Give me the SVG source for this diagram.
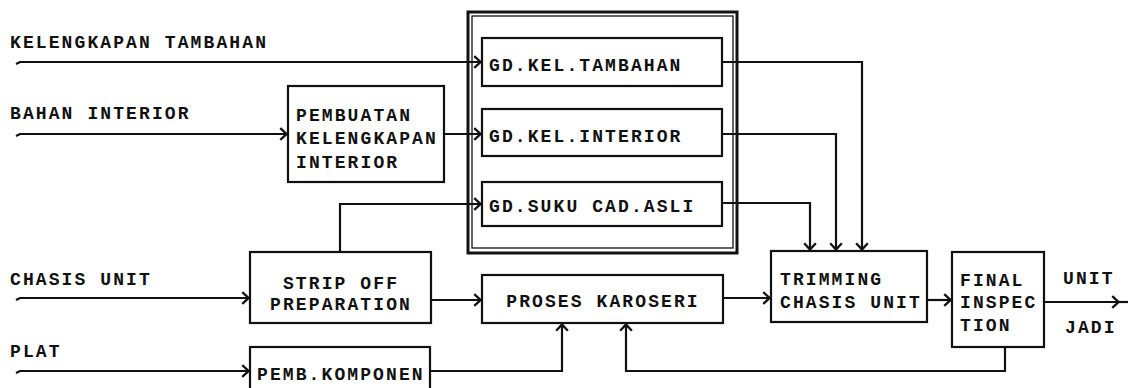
<svg xmlns="http://www.w3.org/2000/svg" width="1128" height="388" viewBox="0 0 1128 388">
<style>
text{font-family:"Liberation Mono","DejaVu Sans Mono",monospace;font-weight:bold;font-size:18px;letter-spacing:2.1px;fill:#111}
.box{fill:#fff;stroke:#111;stroke-width:2.2}
.c{fill:none;stroke:#111;stroke-width:2.2}
.m{text-anchor:middle}
</style>
<defs>
<marker id="ah" markerUnits="userSpaceOnUse" viewBox="0 0 10 16" refX="9" refY="8" markerWidth="9" markerHeight="15" orient="auto">
<path d="M1.5,1.5 L8.5,8 L1.5,14.5" fill="none" stroke="#111" stroke-width="2.6"/>
</marker>
</defs>
<rect width="1128" height="388" fill="#fff"/>

<g id="gudang-frame">
<rect x="468" y="12" width="269" height="241" fill="none" stroke="#111" stroke-width="3"/>
<rect x="472" y="16" width="261" height="232" fill="none" stroke="#111" stroke-width="1.3"/>
</g>

<g id="connectors">
<path class="c" d="M16,64 L20,62 H481" marker-end="url(#ah)"/>
<path class="c" d="M16,136 L20,134 H287" marker-end="url(#ah)"/>
<path class="c" d="M444,134 H481" marker-end="url(#ah)"/>
<path class="c" d="M16,300 L20,298 H249" marker-end="url(#ah)"/>
<path class="c" d="M16,373 L20,371 H249" marker-end="url(#ah)"/>
<path class="c" d="M340,252 V204 H481" marker-end="url(#ah)"/>
<path class="c" d="M431,300 H481" marker-end="url(#ah)"/>
<path class="c" d="M430,371 H562 V324" marker-end="url(#ah)"/>
<path class="c" d="M1005,347 V371 H626 V324" marker-end="url(#ah)"/>
<path class="c" d="M723,298 H770" marker-end="url(#ah)"/>
<path class="c" d="M722,62 H862 V250" marker-end="url(#ah)"/>
<path class="c" d="M722,134 H836 V250" marker-end="url(#ah)"/>
<path class="c" d="M722,203 H810 V250" marker-end="url(#ah)"/>
<path class="c" d="M927,300 H951" marker-end="url(#ah)"/>
<path class="c" d="M1044,302 H1119" marker-end="url(#ah)"/>
<path class="c" d="M1119,302 H1128"/>
</g>

<g id="inputs">
<text x="10" y="48">KELENGKAPAN TAMBAHAN</text>
<text x="10" y="119">BAHAN INTERIOR</text>
<text x="10" y="285">CHASIS UNIT</text>
<text x="10" y="357">PLAT</text>
</g>

<g id="pembuatan">
<rect class="box" x="288" y="86" width="156" height="96"/>
<text x="296" y="121">PEMBUATAN</text>
<text x="296" y="144">KELENGKAPAN</text>
<text x="296" y="168">INTERIOR</text>
</g>

<g id="gd-kel-tambahan">
<rect class="box" x="482" y="38" width="240" height="48"/>
<text x="489" y="71">GD.KEL.TAMBAHAN</text>
</g>

<g id="gd-kel-interior">
<rect class="box" x="482" y="109" width="240" height="47"/>
<text x="489" y="142">GD.KEL.INTERIOR</text>
</g>

<g id="gd-suku-cad-asli">
<rect class="box" x="482" y="182" width="240" height="44"/>
<text x="489" y="212">GD.SUKU CAD.ASLI</text>
</g>

<g id="strip-off">
<rect class="box" x="250" y="252" width="181" height="71"/>
<text class="m" x="341" y="289">STRIP OFF</text>
<text class="m" x="341" y="310">PREPARATION</text>
</g>

<g id="proses-karoseri">
<rect class="box" x="482" y="275" width="241" height="48"/>
<text class="m" x="603" y="307">PROSES KAROSERI</text>
</g>

<g id="pemb-komponen">
<rect class="box" x="250" y="347" width="180" height="46"/>
<text x="257" y="380">PEMB.KOMPONEN</text>
</g>

<g id="trimming">
<rect class="box" x="771" y="251" width="156" height="71"/>
<text x="780" y="285">TRIMMING</text>
<text x="780" y="308">CHASIS UNIT</text>
</g>

<g id="final-inspection">
<rect class="box" x="952" y="252" width="92" height="95"/>
<text x="960" y="286">FINAL</text>
<text x="960" y="308">INSPEC</text>
<text x="960" y="331">TION</text>
</g>

<g id="output">
<text x="1063" y="284">UNIT</text>
<text x="1065" y="333">JADI</text>
</g>
</svg>
